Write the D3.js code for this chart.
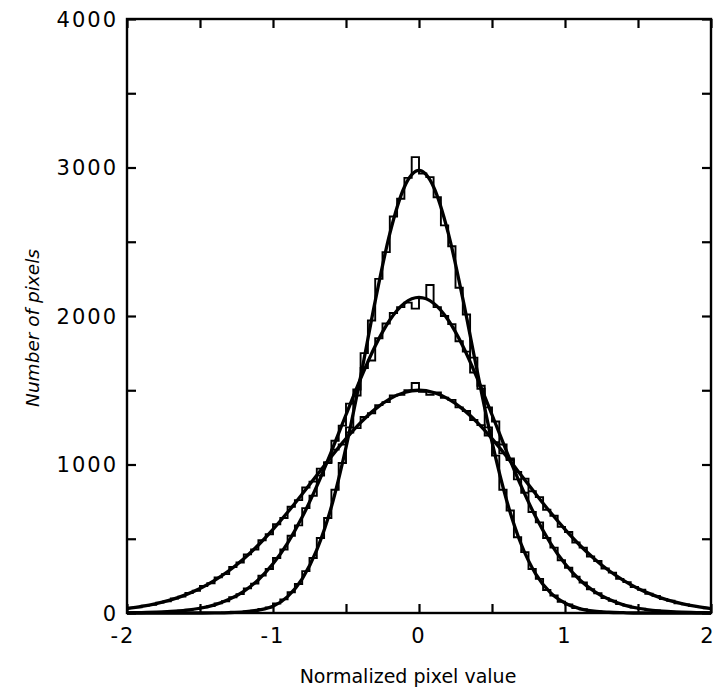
<!DOCTYPE html>
<html>
<head>
<meta charset="utf-8">
<script src="https://cdn.jsdelivr.net/npm/d3@7"></script>
<style>
  body { margin: 0; background: #fff; }
  svg { display: block; }
  .ticklabel { font-family: "DejaVu Sans", sans-serif; font-size: 21px; fill: #000; letter-spacing: 2px; }
  .title { font-family: "DejaVu Sans", sans-serif; font-size: 19px; fill: #000; }
</style>
</head>
<body>
<div id="chart"></div>
<script>
// smooth fitted curves, sampled every 0.1 from -2 to 2
var curveX = d3.range(41).map(function(i){ return -2 + i * 0.1; });
var narrowCurve = [0,0,0,0,0,0,1,3,8,20,45,110,230,425,715,1115,1590,2100,2555,2869,2980,
                   2869,2560,2117,1622,1152,759,463,262,137,67,30,12,5,2,0,0,0,0,0,0];
var mediumCurve = [1,3,5,10,18,32,55,92,146,224,331,471,646,854,1088,1335,1578,1798,1973,2086,2125,
                   2086,1973,1798,1578,1335,1088,854,646,471,331,224,146,92,55,32,18,10,5,3,1];
var wideCurve = [30,44,63,88,122,165,220,286,366,458,563,678,801,928,1054,1174,1282,1373,1442,1485,1500,
                 1485,1442,1373,1282,1174,1054,928,801,678,563,458,366,286,220,165,122,88,63,44,30];

// histograms, bin width 0.05 from -2 to 2 (80 bins)
var binWidth = 0.05;
var narrowHist = [0,0,0,0,0,0,0,0,0,0,0,1,1,2,4,6,11,16,27,38,64,92,140,195,282,370,505,640,830,1010,1250,1465,1750,1970,2250,2430,2670,2790,2930,3070,
                  2960,2935,2800,2610,2470,2190,2010,1720,1510,1250,1060,830,690,510,410,296,230,155,118,76,57,34,25,14,11,5,4,2,1,0,0,0,0,0,0,0,0,0,0,0];
var mediumHist = [2,1,3,5,6,9,12,15,22,27,38,47,65,79,106,127,166,198,252,296,370,428,520,590,706,790,925,1015,1160,1262,1410,1505,1650,1700,1850,1950,2020,2060,2090,2050,
                  2120,2209,2060,2000,1945,1830,1760,1620,1530,1385,1290,1135,1040,900,810,680,610,505,440,355,305,245,205,160,133,100,83,61,50,36,29,20,17,10,9,5,4,3,2,1];
var wideHist = [35,38,50,55,70,79,98,110,135,150,182,200,240,262,310,340,395,428,490,530,598,640,715,760,845,885,972,1010,1100,1135,1215,1245,1320,1345,1400,1420,1465,1470,1500,1549,
                1490,1470,1485,1450,1435,1385,1360,1300,1265,1195,1150,1075,1030,950,905,820,780,695,655,580,545,475,440,380,350,300,272,230,208,175,157,130,115,94,83,66,58,47,41,32];

var xTickLabels = [-2, -1, 0, 1, 2];
var yTickLabels = [0, 1000, 2000, 3000, 4000];
var xTitle = "Normalized pixel value";
var yTitle = "Number of pixels";

var W = 719, H = 692;
var margin = {left: 127, top: 19, right: 8, bottom: 79};
var w = W - margin.left - margin.right;
var h = H - margin.top - margin.bottom;
var tickLen = 9;

var svg = d3.select("#chart").append("svg").attr("width", W).attr("height", H);
var g = svg.append("g").attr("transform", "translate(" + margin.left + "," + margin.top + ")");

var xScale = d3.scaleLinear().domain([-2, 2]).range([0, w]);
var yScale = d3.scaleLinear().domain([0, 4000]).range([h, 0]);

// inward ticks on all four sides
var xTicks = d3.range(-2, 2.001, 0.5);
var yTicks = d3.range(0, 4001, 500);

g.append("g").attr("transform", "translate(0," + h + ")")
    .call(d3.axisTop(xScale).tickValues(xTicks).tickSize(tickLen).tickFormat(""))
    .call(function(s){ s.select(".domain").remove(); });
g.append("g")
    .call(d3.axisBottom(xScale).tickValues(xTicks).tickSize(tickLen).tickFormat(""))
    .call(function(s){ s.select(".domain").remove(); });
g.append("g")
    .call(d3.axisRight(yScale).tickValues(yTicks).tickSize(tickLen).tickFormat(""))
    .call(function(s){ s.select(".domain").remove(); });
g.append("g").attr("transform", "translate(" + w + ",0)")
    .call(d3.axisLeft(yScale).tickValues(yTicks).tickSize(tickLen).tickFormat(""))
    .call(function(s){ s.select(".domain").remove(); });
g.selectAll(".tick line").attr("stroke", "#000").attr("stroke-width", 2.2);

g.append("rect")
    .attr("x", 0).attr("y", 0).attr("width", w).attr("height", h)
    .attr("fill", "none").attr("stroke", "#000").attr("stroke-width", 2.4);

// tick labels
g.selectAll(".xlab").data(xTickLabels).enter().append("text")
    .attr("class", "ticklabel")
    .attr("x", function(d){ return xScale(d) + (d == -2 ? -4 : 0) + (d == 2 ? -3 : 0); })
    .attr("y", h + 30)
    .attr("text-anchor", "middle")
    .text(function(d){ return d; });

g.selectAll(".ylab").data(yTickLabels).enter().append("text")
    .attr("class", "ticklabel")
    .attr("x", -9)
    .attr("y", function(d){ return yScale(d); })
    .attr("dy", "0.36em")
    .attr("text-anchor", "end")
    .text(function(d){ return d; });

// titles
svg.append("text").attr("class", "title")
    .attr("x", 408).attr("y", 683)
    .attr("text-anchor", "middle")
    .text(xTitle);
svg.append("text").attr("class", "title")
    .attr("transform", "translate(39,328) rotate(-90)")
    .attr("text-anchor", "middle")
    .style("font-style", "italic")
    .style("font-size", "18.5px")
    .text(yTitle);

// histograms as step lines
var stepLine = d3.line()
    .x(function(d){ return xScale(d[0]); })
    .y(function(d){ return yScale(d[1]); })
    .curve(d3.curveStepAfter);

[wideHist, mediumHist, narrowHist].forEach(function(hist){
    var pts = hist.map(function(v, i){ return [-2 + i * binWidth, v]; });
    pts.push([2, hist[hist.length - 1]]);
    g.append("path")
        .datum(pts)
        .attr("d", stepLine)
        .attr("fill", "none")
        .attr("stroke", "#000")
        .attr("stroke-width", 1.9);
});

// fitted curves
var smoothLine = d3.line()
    .x(function(d){ return xScale(d[0]); })
    .y(function(d){ return yScale(d[1]); })
    .curve(d3.curveMonotoneX);

[wideCurve, mediumCurve, narrowCurve].forEach(function(c){
    g.append("path")
        .datum(c.map(function(v, i){ return [curveX[i], v]; }))
        .attr("d", smoothLine)
        .attr("fill", "none")
        .attr("stroke", "#000")
        .attr("stroke-width", 3.3);
});
</script>
</body>
</html>
